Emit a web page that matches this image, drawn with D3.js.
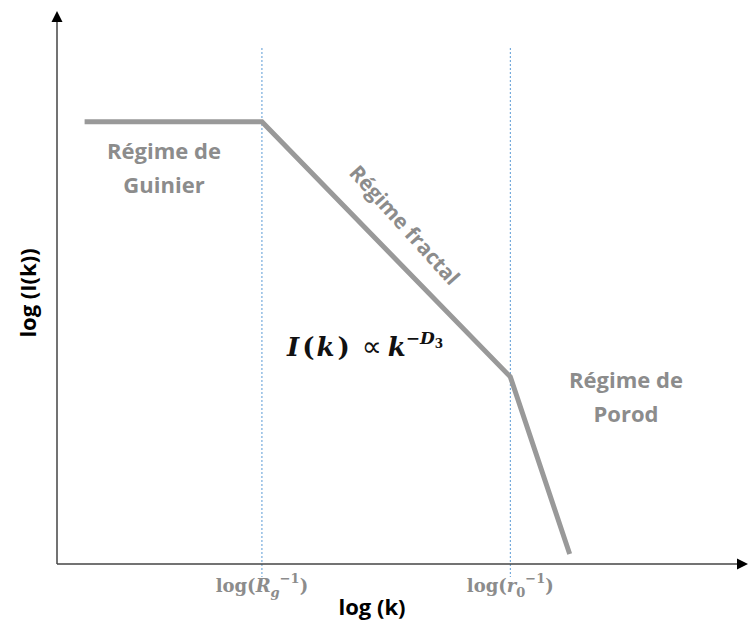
<!DOCTYPE html>
<html>
<head>
<meta charset="utf-8">
<script src="https://cdn.jsdelivr.net/npm/d3@7"></script>
<style>
  html, body { margin: 0; padding: 0; background: #fff; }
  svg { display: block; }
</style>
</head>
<body>
<svg id="chart" width="748" height="630"></svg>
<script>
// Schematic scattering curve: log I(k) versus log k, three regimes
const logK = [4, 29.7, 65.7, 74.3];
const logI = [80.1, 80.1, 33.9, 1.8];

// Crossover positions on the k axis and their labels
const crossoverK = [29.7, 65.7];
const crossoverLabels = [
  { base: "R", sub: "g", sup: "−1" },
  { base: "r", sub: "0", sup: "−1" }
];

// Regime annotations
const regimeNames = ["Régime de Guinier", "Régime fractal", "Régime de Porod"];

const svg = d3.select("#chart");
const x = d3.scaleLinear().domain([0, 100]).range([57, 747]);
const y = d3.scaleLinear().domain([0, 100]).range([564, 12]);

const gray = "#999999";
const labelGray = "#8c8c8c";
const sans = "'Open Sans', sans-serif";
const serif = "'DejaVu Serif', 'Liberation Serif', serif";

// Dotted crossover guides
svg.append("g").selectAll("line").data(crossoverK).join("line")
  .attr("x1", d => x(d)).attr("x2", d => x(d))
  .attr("y1", 48).attr("y2", 577)
  .attr("stroke", "#5b9bd5").attr("stroke-width", 1)
  .attr("stroke-dasharray", "2,2");

// Axes with arrowheads
const axisColor = "#444";
svg.append("line").attr("x1", x(0)).attr("x2", 740).attr("y1", y(0)).attr("y2", y(0))
  .attr("stroke", axisColor).attr("stroke-width", 1.5);
svg.append("line").attr("x1", x(0)).attr("x2", x(0)).attr("y1", y(0)).attr("y2", 20)
  .attr("stroke", axisColor).attr("stroke-width", 1.5);
svg.append("path").attr("d", `M${x(0)},11 L${x(0) - 5.5},22 L${x(0) + 5.5},22 Z`).attr("fill", "#000");
svg.append("path").attr("d", `M748,${y(0)} L737,${y(0) - 5.5} L737,${y(0) + 5.5} Z`).attr("fill", "#000");

// Tick labels at the crossovers
const tl = svg.append("g").selectAll("text").data(crossoverK).join("text")
  .attr("x", d => x(d)).attr("y", 592)
  .attr("text-anchor", "middle")
  .attr("font-family", serif).attr("font-weight", "bold")
  .attr("font-size", 18).attr("fill", labelGray);
tl.each(function(d, i) {
  const t = d3.select(this);
  const lab = crossoverLabels[i];
  t.append("tspan").text("log(");
  t.append("tspan").attr("font-style", "italic").text(lab.base);
  t.append("tspan").attr("font-style", lab.sub === "g" ? "italic" : "normal")
    .attr("font-size", 13).attr("dy", 5).text(lab.sub);
  t.append("tspan").attr("font-size", 13).attr("dy", -14).text(lab.sup);
  t.append("tspan").attr("dy", 9).text(")");
});

// Axis titles
svg.append("text").attr("x", 372).attr("y", 615)
  .attr("text-anchor", "middle")
  .attr("font-family", sans).attr("font-weight", "bold")
  .attr("font-size", 22).attr("fill", "#000").text("log (k)");
svg.append("text")
  .attr("transform", "translate(36,293) rotate(-90)")
  .attr("text-anchor", "middle")
  .attr("font-family", sans).attr("font-weight", "bold")
  .attr("font-size", 22).attr("fill", "#000").text("log (I(k))");

// The curve
const line = d3.line().x((d, i) => x(logK[i])).y(d => y(d));
svg.append("path").datum(logI).attr("d", line)
  .attr("fill", "none").attr("stroke", gray).attr("stroke-width", 5)
  .attr("stroke-linejoin", "miter");

// Regime labels
function twoLine(cx, by, l1, l2) {
  const t = svg.append("text").attr("text-anchor", "middle")
    .attr("font-family", sans).attr("font-weight", "bold")
    .attr("font-size", 22).attr("fill", labelGray);
  t.append("tspan").attr("x", cx).attr("y", by).text(l1);
  t.append("tspan").attr("x", cx).attr("y", by + 34).text(l2);
}
twoLine(164, 159, "Régime de", "Guinier");
twoLine(626, 388, "Régime de", "Porod");

svg.append("text")
  .attr("transform", "translate(399,230) rotate(48)")
  .attr("text-anchor", "middle")
  .attr("font-family", sans).attr("font-weight", "bold")
  .attr("font-size", 21).attr("fill", labelGray).text(regimeNames[1]);

// Power-law relation
const eq = svg.append("text").attr("x", 287).attr("y", 356)
  .attr("font-family", serif).attr("font-weight", "bold")
  .attr("font-size", 26).attr("fill", "#111");
eq.append("tspan").attr("font-style", "italic").text("I");
eq.append("tspan").attr("dx", 3).text("(");
eq.append("tspan").attr("dx", 2).attr("font-style", "italic").text("k");
eq.append("tspan").attr("dx", 3).text(")");
eq.append("tspan").attr("dx", 12).attr("font-family", "'DejaVu Sans', sans-serif")
  .attr("font-weight", "normal").attr("font-size", 28).text("∝");
eq.append("tspan").attr("dx", 6).attr("font-style", "italic").text("k");
eq.append("tspan").attr("font-size", 17).attr("dy", -12).text("−");
eq.append("tspan").attr("font-size", 17).attr("font-style", "italic").text("D");
eq.append("tspan").attr("font-size", 12).attr("dy", 4).text("3");
</script>
</body>
</html>
